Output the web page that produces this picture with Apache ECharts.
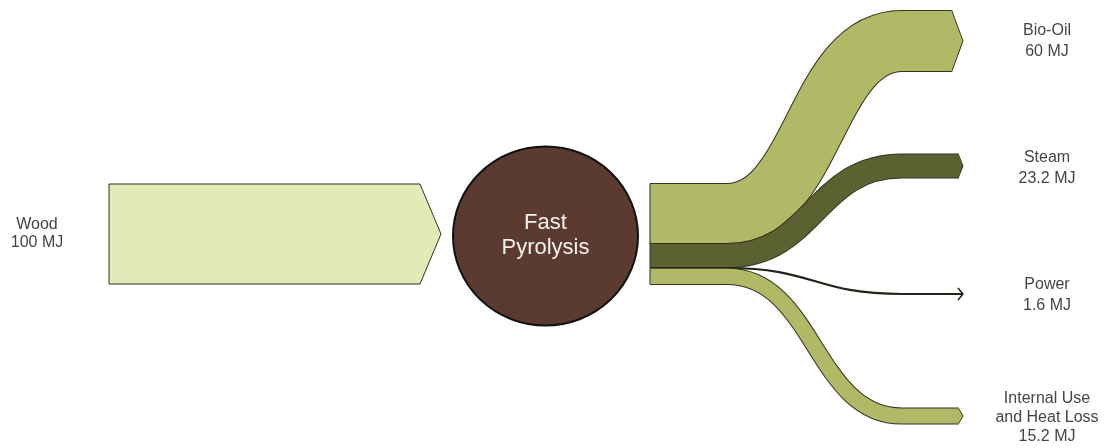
<!DOCTYPE html>
<html>
<head>
<meta charset="utf-8">
<title>Fast Pyrolysis energy flow</title>
<script src="https://cdn.jsdelivr.net/npm/echarts@6/dist/echarts.min.js"></script>
<style>
  html, body { margin: 0; padding: 0; background: #fff; }
  #main { width: 1110px; height: 448px; }
</style>
</head>
<body>
<div id="main"></div>
<script>
// energy balance (MJ)
const sourceName = 'Wood';
const sourceValue = 100;
const processName = 'Fast\nPyrolysis';
const outputNames = ['Bio-Oil', 'Steam', 'Power', 'Internal Use\nand Heat Loss'];
const outputValues = [60, 23.2, 1.6, 15.2];
const unit = 'MJ';

// layout, in axis units (1 unit ~ 1 MJ of band thickness)
const L = {
  srcX0: 109, srcX1: 441, srcTop: 184,
  procCx: 545.5, procCy: 236, procRx: 92.5, procRy: 89.5,
  flowX0: 650, bendX0: 727, bendX1: 902, tipX: 963,
  outCenters: [41, 166, 294, 416],
  labelYs: [41, 168, 295.5, 417.5],
  leftLabelX: 37, rightLabelX: 1047
};

// styles
const edge = '#33331f';
const woodColor = '#e2ebb8';
const procColor = '#5b3b30';
const outColors = ['#b1b866', '#5b6131', '#222218', '#b1b866'];
const labelFont = { fontSize: 16, fontFamily: 'Liberation Sans, Arial, sans-serif', fill: '#444' };

const chart = echarts.init(document.getElementById('main'));

function label(text, x, y, lh) {
  return {
    type: 'text',
    style: Object.assign({ text: text, x: x, y: y, align: 'center', verticalAlign: 'middle', lineHeight: lh }, labelFont)
  };
}

function renderSource(params, api) {
  const v = api.value(0);
  const th = api.size([0, v])[1];
  const top = api.coord([0, L.srcTop])[1];
  const x0 = api.coord([L.srcX0, 0])[0];
  const xt = api.coord([L.srcX1, 0])[0];
  const xe = xt - th * 0.21;
  const lab = api.coord([L.leftLabelX, L.srcTop])[0];
  return {
    type: 'group',
    children: [
      {
        type: 'polygon',
        shape: { points: [[x0, top], [xe, top], [xt, top + th / 2], [xe, top + th], [x0, top + th]] },
        style: { fill: woodColor, stroke: edge, lineWidth: 1 }
      },
      label(sourceName + '\n' + v + ' ' + unit, lab, top + th / 2, 18)
    ]
  };
}

function renderProcess(params, api) {
  const c = api.coord([L.procCx, L.procCy]);
  const rx = api.size([L.procRx, 0])[0];
  const ry = api.size([0, L.procRy])[1];
  const d = 'M' + (c[0] - rx) + ' ' + c[1] +
    ' A' + rx + ' ' + ry + ' 0 1 0 ' + (c[0] + rx) + ' ' + c[1] +
    ' A' + rx + ' ' + ry + ' 0 1 0 ' + (c[0] - rx) + ' ' + c[1] + ' Z';
  return {
    type: 'group',
    children: [
      { type: 'path', shape: { pathData: d }, style: { fill: procColor, stroke: '#111', lineWidth: 2 } },
      {
        type: 'text',
        style: {
          text: processName, x: c[0], y: c[1] - 1, align: 'center', verticalAlign: 'middle',
          lineHeight: 25, fontSize: 22, fontFamily: 'Liberation Sans, Arial, sans-serif', fill: '#f4f0ec'
        }
      }
    ]
  };
}

function renderFlow(params, api) {
  const i = api.value(0);
  const v = api.value(1);
  const th = api.size([0, v])[1];
  const before = outputValues.slice(0, i).reduce((a, b) => a + b, 0);
  const y0 = api.coord([0, L.srcTop])[1] + api.size([0, before])[1];
  const yc0 = y0 + th / 2;
  const yc1 = api.coord([0, L.outCenters[i]])[1];
  const x0 = api.coord([L.flowX0, 0])[0];
  const xa = api.coord([L.bendX0, 0])[0];
  const xb = api.coord([L.bendX1, 0])[0];
  const xt = api.coord([L.tipX, 0])[0];
  const thin = th < 4;
  const tip = thin ? 0 : Math.max(5, th * 0.19);
  const xe = xt - tip;
  const k = (xb - xa) / 2;
  const d = 'M' + x0 + ' ' + yc0 + ' L' + xa + ' ' + yc0 +
    ' C' + (xa + k) + ' ' + yc0 + ' ' + (xb - k) + ' ' + yc1 + ' ' + xb + ' ' + yc1 +
    ' L' + xe + ' ' + yc1;
  const color = outColors[i];
  const children = [];
  const labX = api.coord([L.rightLabelX, 0])[0];
  const labY = api.coord([0, L.labelYs[i]])[1];
  if (thin) {
    children.push({ type: 'path', shape: { pathData: d }, style: { fill: 'none', stroke: color, lineWidth: 2.2, lineCap: 'butt' } });
    children.push({
      type: 'polyline',
      shape: { points: [[xt - 5, yc1 - 6], [xt, yc1], [xt - 5, yc1 + 6]] },
      style: { fill: 'none', stroke: color, lineWidth: 1.5 }
    });
  } else {
    const top = yc1 - th / 2, bot = yc1 + th / 2;
    children.push({ type: 'path', shape: { pathData: d }, style: { fill: 'none', stroke: edge, lineWidth: th + 2, lineCap: 'butt' } });
    children.push({ type: 'path', shape: { pathData: d }, style: { fill: 'none', stroke: color, lineWidth: th, lineCap: 'butt' } });
    children.push({ type: 'line', shape: { x1: x0, y1: y0 - 0.5, x2: x0, y2: y0 + th + 0.5 }, style: { stroke: edge, lineWidth: 1 } });
    children.push({
      type: 'polygon',
      shape: { points: [[xe - 1, top], [xe, top], [xt, yc1], [xe, bot], [xe - 1, bot]] },
      style: { fill: color }
    });
    children.push({
      type: 'polyline',
      shape: { points: [[xe, top - 1], [xt, yc1], [xe, bot + 1]] },
      style: { fill: 'none', stroke: edge, lineWidth: 1 }
    });
  }
  children.push(label(outputNames[i] + '\n' + v + ' ' + unit, labX, labY, outputNames[i].indexOf('\n') >= 0 ? 19 : 21));
  return { type: 'group', children: children };
}

const option = {
  animation: false,
  grid: { left: 0, right: 0, top: 0, bottom: 0 },
  xAxis: { type: 'value', min: 0, max: 1110, show: false },
  yAxis: { type: 'value', min: 0, max: 448, inverse: true, show: false },
  series: [
    { type: 'custom', name: sourceName, silent: true, clip: false, renderItem: renderSource, data: [[sourceValue]] },
    { type: 'custom', name: 'process', silent: true, clip: false, renderItem: renderProcess, data: [[sourceValue]] },
    { type: 'custom', name: 'outputs', silent: true, clip: false, renderItem: renderFlow,
      data: outputValues.map((v, i) => [i, v]) }
  ]
};

chart.setOption(option);
</script>
</body>
</html>
